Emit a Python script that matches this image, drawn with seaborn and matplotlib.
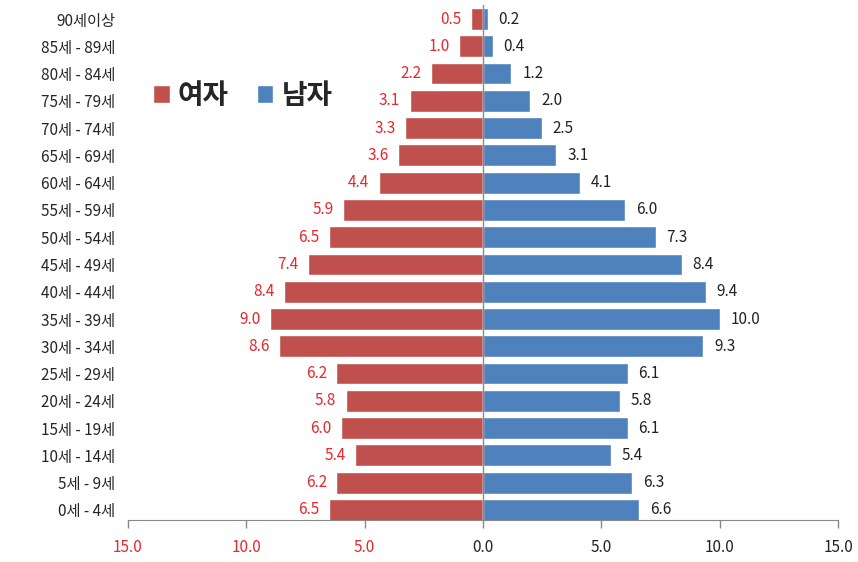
import matplotlib
matplotlib.use("Agg")
import matplotlib.pyplot as plt
import seaborn as sns
import pandas as pd
import numpy as np

ages = ["90세이상", "85세 - 89세", "80세 - 84세", "75세 - 79세", "70세 - 74세", "65세 - 69세",
        "60세 - 64세", "55세 - 59세", "50세 - 54세", "45세 - 49세", "40세 - 44세", "35세 - 39세",
        "30세 - 34세", "25세 - 29세", "20세 - 24세", "15세 - 19세", "10세 - 14세", "5세 - 9세", "0세 - 4세"]
female = [0.5, 1.0, 2.2, 3.1, 3.3, 3.6, 4.4, 5.9, 6.5, 7.4, 8.4, 9.0, 8.6, 6.2, 5.8, 6.0, 5.4, 6.2, 6.5]
male = [0.2, 0.4, 1.2, 2.0, 2.5, 3.1, 4.1, 6.0, 7.3, 8.4, 9.4, 10.0, 9.3, 6.1, 5.8, 6.1, 5.4, 6.3, 6.6]
xticks = [-15, -10, -5, 0, 5, 10, 15]

sns.set_style("white")
plt.rcParams['font.family'] = ['Noto Sans CJK KR', 'DejaVu Sans']

RED = "#C0504D"
BLUE = "#4F81BD"
LRED = "#E8262B"

df = pd.DataFrame({
    "age": ages + ages,
    "value": [-v for v in female] + male,
    "sex": ["여자"] * len(ages) + ["남자"] * len(ages),
})

fig = plt.figure(figsize=(8.58, 5.62), dpi=100)
ax = fig.add_axes([0.149, 0.0747, 0.828, 0.9157])
sns.barplot(data=df, x="value", y="age", hue="sex", order=ages, hue_order=["여자", "남자"],
            palette=[RED, BLUE], dodge=False, orient="h", width=0.8, ax=ax, saturation=1)

ax.set_xlim(-15, 15)
ax.set_ylim(len(ages) - 0.63, -0.5)
ax.set_xticks(xticks)
ax.set_xticklabels([f"{abs(t):.1f}" for t in xticks], fontsize=11)
for lbl, t in zip(ax.get_xticklabels(), xticks):
    lbl.set_color(LRED if t < 0 else "#222222")
ax.tick_params(axis="x", bottom=True, direction="out", length=6, width=1, color="#888888", pad=8)
ax.tick_params(axis="y", left=False, length=0, pad=9, labelsize=11)
ax.set_xlabel("")
ax.set_ylabel("")
for s in ["top", "right", "left"]:
    ax.spines[s].set_visible(False)
ax.spines["bottom"].set_color("#888888")
ax.axvline(0, color="#888888", lw=1)

for i, (f, m) in enumerate(zip(female, male)):
    ax.text(-f - 0.4, i, f"{f:.1f}", ha="right", va="center", color=LRED, fontsize=11)
    ax.text(m + 0.45, i, f"{m:.1f}", ha="left", va="center", color="#222222", fontsize=11)

leg = ax.legend(loc="upper left", bbox_to_anchor=(0.0, 0.9), ncol=2, frameon=False,
                prop={"size": 20, "weight": "bold"}, handlelength=0.6, handleheight=0.6,
                handletextpad=0.3, columnspacing=1.0)

fig.savefig("out.png", dpi=100)
